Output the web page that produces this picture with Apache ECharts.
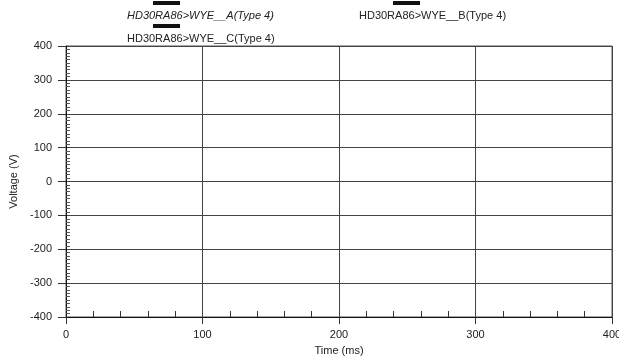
<!DOCTYPE html>
<html>
<head>
<meta charset="utf-8">
<script src="https://cdn.jsdelivr.net/npm/echarts@6/dist/echarts.min.js"></script>
<style>
html,body{margin:0;padding:0;background:#fff;}
#chart{width:619px;height:360px;}
</style>
</head>
<body>
<div id="chart"></div>
<script>
// Series names (legend)
var seriesNames = ['HD30RA86>WYE__A(Type 4)', 'HD30RA86>WYE__B(Type 4)', 'HD30RA86>WYE__C(Type 4)'];
// Waveform values: no trace is legible in the reference scan
var seriesA = [];
var seriesB = [];
var seriesC = [];
// Axes
var xTicks = [0, 100, 200, 300, 400];
var yTicks = [-400, -300, -200, -100, 0, 100, 200, 300, 400];
var xName = 'Time (ms)';
var yName = 'Voltage (V)';

var FONT = 'Liberation Sans, Arial, sans-serif';
var chart = echarts.init(document.getElementById('chart'), null, {renderer: 'canvas'});

function legendFor(i, left, top, italic, spacer) {
  return {
    data: [seriesNames[i]],
    left: left, top: top,
    padding: 0,
    icon: 'rect', itemWidth: 0, itemHeight: 0,
    selectedMode: false,
    formatter: function (n) { return '{sp|}{bar|}\n{t|' + n + '}'; },
    textStyle: {
      rich: {
        sp: {width: spacer, height: 4, lineHeight: 12},
        bar: {width: 27, height: 4, lineHeight: 12, backgroundColor: '#111'},
        t: {fontFamily: FONT, fontSize: 11, color: '#222', lineHeight: 13, fontStyle: italic ? 'italic' : 'normal'}
      }
    }
  };
}

var option = {
  backgroundColor: '#fff',
  animation: false,
  legend: [
    legendFor(0, 122, -3, true, 26),
    legendFor(1, 354, -3, false, 34),
    legendFor(2, 122, 20, false, 26)
  ],
  grid: {left: 66, right: 7, top: 46, bottom: 43, show: true, borderColor: '#555', borderWidth: 1, outerBoundsMode: 'none', containLabel: false},
  xAxis: {
    type: 'value', min: xTicks[0], max: xTicks[xTicks.length - 1], interval: 100,
    name: xName, nameLocation: 'middle', nameGap: 28,
    nameTextStyle: {fontFamily: FONT, fontSize: 11, color: '#222'},
    axisLine: {show: true, onZero: false, lineStyle: {color: '#111', width: 1}},
    axisTick: {show: true, inside: false, length: 7, lineStyle: {color: '#333'}},
    minorTick: {show: true, splitNumber: 5, length: -6, lineStyle: {color: '#333'}},
    axisLabel: {fontFamily: FONT, fontSize: 11, color: '#222', margin: 12},
    splitLine: {show: true, lineStyle: {color: '#444', width: 1}}
  },
  yAxis: {
    type: 'value', min: yTicks[0], max: yTicks[yTicks.length - 1], interval: 100,
    name: yName, nameLocation: 'middle', nameGap: 47, nameRotate: 90,
    nameTextStyle: {fontFamily: FONT, fontSize: 11, color: '#222'},
    axisLine: {show: true, lineStyle: {color: '#111', width: 1}},
    axisTick: {show: true, inside: false, length: 8, lineStyle: {color: '#333'}},
    minorTick: {show: true, splitNumber: 10, length: -4, lineStyle: {color: '#555'}},
    axisLabel: {fontFamily: FONT, fontSize: 11, color: '#222', margin: 14},
    splitLine: {show: true, lineStyle: {color: '#444', width: 1}}
  },
  series: [
    {name: seriesNames[0], type: 'line', data: seriesA, showSymbol: false, lineStyle: {color: '#111', width: 1}, itemStyle: {color: '#111'}},
    {name: seriesNames[1], type: 'line', data: seriesB, showSymbol: false, lineStyle: {color: '#111', width: 1}, itemStyle: {color: '#111'}},
    {name: seriesNames[2], type: 'line', data: seriesC, showSymbol: false, lineStyle: {color: '#111', width: 1}, itemStyle: {color: '#111'}}
  ]
};
chart.setOption(option);
</script>
</body>
</html>
